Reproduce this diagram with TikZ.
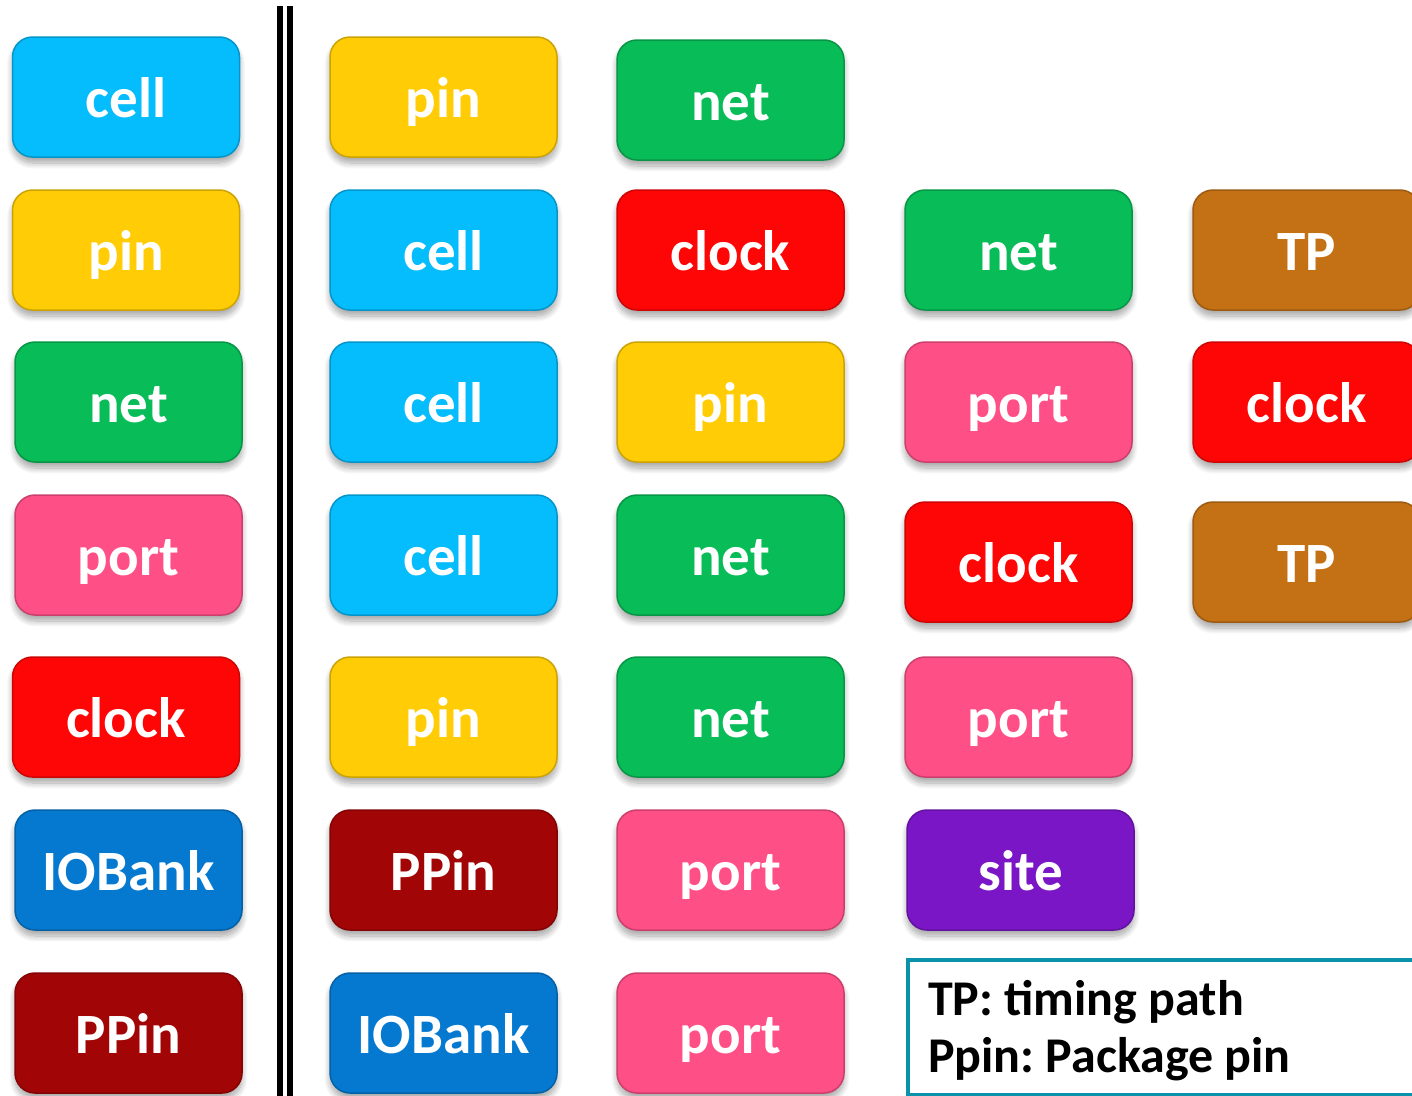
\documentclass[tikz,border=0pt]{standalone}
\usepackage{fontspec}
\setmainfont{Carlito}
\frenchspacing
\usetikzlibrary{shadows,shadows.blur}
\definecolor{ccyan}{HTML}{05BCFD}
\definecolor{cyellow}{HTML}{FFCC05}
\definecolor{cgreen}{HTML}{08BC58}
\definecolor{cpink}{HTML}{FF4F87}
\definecolor{cred}{HTML}{FF0606}
\definecolor{cblue}{HTML}{0579D0}
\definecolor{cdred}{HTML}{A20505}
\definecolor{cbrown}{HTML}{C47014}
\definecolor{cpurple}{HTML}{7A16C6}
\definecolor{cteal}{HTML}{0A92AB}
\tikzset{
  tag/.style={rounded corners=20pt, minimum width=227pt, minimum height=120pt,
    inner sep=0pt, text height=40pt, text depth=0pt, text=white,
    font=\fontsize{57}{60}\selectfont\bfseries,
    blur shadow={shadow xshift=0pt, shadow yshift=-6pt, shadow blur radius=6pt, shadow blur steps=10, shadow opacity=35}},
  tcell/.style={tag, fill=ccyan, draw=ccyan!80!black, line width=1.5pt},
  tpin/.style={tag, fill=cyellow, draw=cyellow!80!black, line width=1.5pt},
  tnet/.style={tag, fill=cgreen, draw=cgreen!80!black, line width=1.5pt},
  tport/.style={tag, fill=cpink, draw=cpink!80!black, line width=1.5pt},
  tclock/.style={tag, fill=cred, draw=cred!80!black, line width=1.5pt},
  tio/.style={tag, fill=cblue, draw=cblue!80!black, line width=1.5pt},
  tppin/.style={tag, fill=cdred, draw=cdred!80!black, line width=1.5pt},
  ttp/.style={tag, fill=cbrown, draw=cbrown!80!black, line width=1.5pt},
  tsite/.style={tag, fill=cpurple, draw=cpurple!80!black, line width=1.5pt},
  sepline/.style={line width=6pt, black},
  legtxt/.style={anchor=base west, inner sep=0pt, font=\fontsize{50}{56}\selectfont\bfseries, text=black}
}
\begin{document}
\begin{tikzpicture}[x=1pt,y=-1pt]
\useasboundingbox (0,0) rectangle (1412,1095);
\clip (0,0) rectangle (1412,1095);
% column 1
\node[tcell]  (a1) at (126,97)    {cell};
\node[tpin]   (a2) at (126,250)   {pin};
\node[tnet]   (a3) at (128.5,402) {net};
\node[tport]  (a4) at (128.5,555) {port};
\node[tclock] (a5) at (126,717)   {clock};
\node[tio]    (a6) at (128.5,870) {IOBank};
\node[tppin]  (a7) at (128.5,1033){PPin};
% separator
\coordinate (s1t) at (280,6);
\coordinate (s1b) at (280,1100);
\coordinate (s2t) at (290,6);
\coordinate (s2b) at (290,1100);
\draw[sepline] (s1t) -- (s1b);
\draw[sepline] (s2t) -- (s2b);
% column 2
\node[tpin]   (b1) at (443.5,97)   {pin};
\node[tcell]  (b2) at (443.5,250)  {cell};
\node[tcell]  (b3) at (443.5,402)  {cell};
\node[tcell]  (b4) at (443.5,555)  {cell};
\node[tpin]   (b5) at (443.5,717)  {pin};
\node[tppin]  (b6) at (443.5,870)  {PPin};
\node[tio]    (b7) at (443.5,1033) {IOBank};
% column 3
\node[tnet]   (c1) at (730.5,100)  {net};
\node[tclock] (c2) at (730.5,250)  {clock};
\node[tpin]   (c3) at (730.5,402)  {pin};
\node[tnet]   (c4) at (730.5,555)  {net};
\node[tnet]   (c5) at (730.5,717)  {net};
\node[tport]  (c6) at (730.5,870)  {port};
\node[tport]  (c7) at (730.5,1033) {port};
% column 4
\node[tnet]   (d2) at (1018.5,250) {net};
\node[tport]  (d3) at (1018.5,402) {port};
\node[tclock] (d4) at (1018.5,562) {clock};
\node[tport]  (d5) at (1018.5,717) {port};
\node[tsite]  (d6) at (1020.5,870) {site};
% column 5
\node[ttp]    (e2) at (1306.5,250) {TP};
\node[tclock] (e3) at (1306.5,402) {clock};
\node[ttp]    (e4) at (1306.5,562) {TP};
% legend
\node[draw=cteal, line width=4pt, anchor=north west, minimum width=530pt, minimum height=135pt, inner sep=0pt] (legend) at (906,958) {};
\node[legtxt] (leg1) at (928,1015) {TP: timing path};
\node[legtxt] (leg2) at (928,1072) {Ppin: Package pin};
\end{tikzpicture}
\end{document}
